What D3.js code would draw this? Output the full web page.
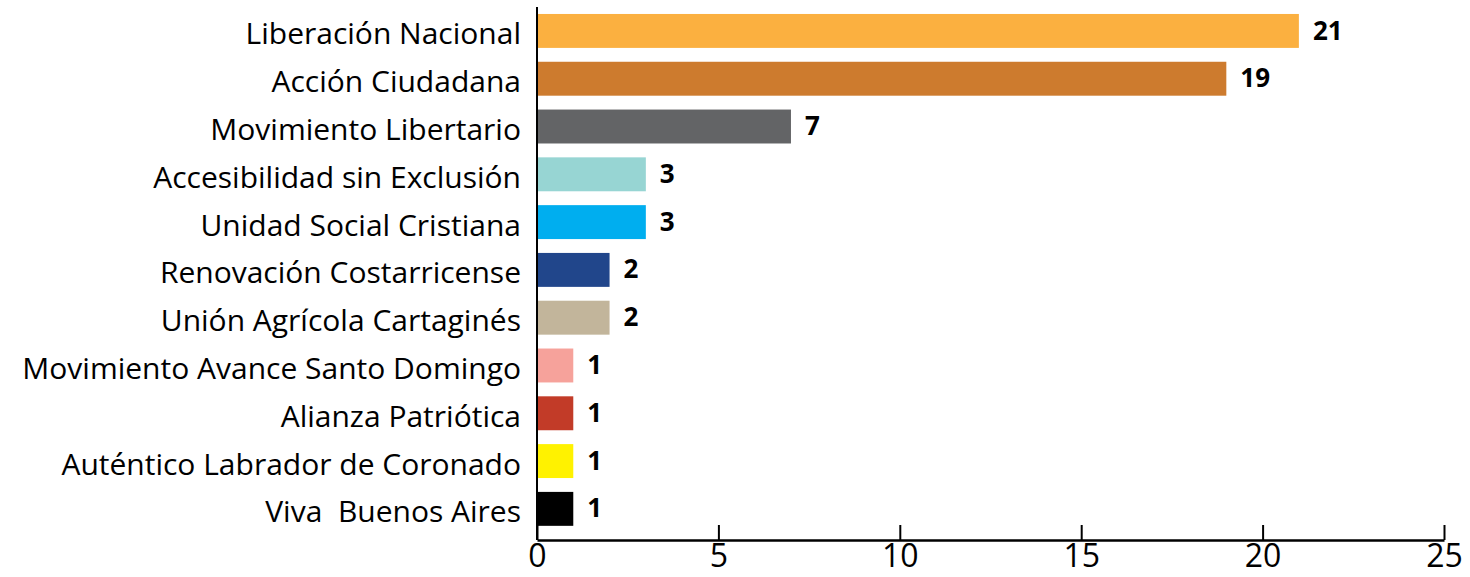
<!DOCTYPE html>
<html><head><meta charset="utf-8">
<script src="https://cdn.jsdelivr.net/npm/d3@7"></script>
<style>body{margin:0;background:#fff}svg{display:block}text{white-space:pre}</style>
</head><body><svg id="c" width="1470" height="577"></svg>
<script>
const categories = ["Liberación Nacional","Acción Ciudadana","Movimiento Libertario","Accesibilidad sin Exclusión","Unidad Social Cristiana","Renovación Costarricense","Unión Agrícola Cartaginés","Movimiento Avance Santo Domingo","Alianza Patriótica","Auténtico Labrador de Coronado","Viva  Buenos Aires"];
const values = [21,19,7,3,3,2,2,1,1,1,1];
const colors = ["#FBB040","#CD7B2E","#636466","#97D5D3","#00AEEF","#21468B","#C2B59B","#F6A29B","#C23B28","#FFF200","#000000"];
const xTicks = [0,5,10,15,20,25];

const svg = d3.select("#c");
const x0 = 537, x1 = 1444, axisY = 540;
const x = d3.scaleLinear().domain([0,25]).range([x0,x1]);
const y = d3.scaleBand().domain(categories).range([6.8,533]).paddingInner(0.29).paddingOuter(0.15);

svg.selectAll("rect.bar").data(categories).join("rect")
  .attr("x", x(0)).attr("y", d=>y(d))
  .attr("width", (d,i)=>x(values[i])-x(0)).attr("height", y.bandwidth())
  .attr("fill",(d,i)=>colors[i]);

svg.selectAll("text.val").data(categories).join("text")
  .attr("x",(d,i)=>x(values[i])+14).attr("y",d=>y(d)+y.bandwidth()/2)
  .attr("dy","0.33em").attr("font-family","Open Sans, sans-serif").attr("font-weight","bold")
  .attr("font-size",26).text((d,i)=>values[i]);

svg.selectAll("text.cat").data(categories).join("text")
  .attr("x",521).attr("y",d=>y(d)+y.bandwidth()/2).attr("dy","0.45em")
  .attr("text-anchor","end").attr("font-family","Open Sans, sans-serif").attr("font-size",30)
  .attr("fill","#000").text(d=>d);

svg.append("line").attr("x1",x0).attr("x2",x0).attr("y1",7).attr("y2",axisY).attr("stroke","#000").attr("stroke-width",2);

const ax = svg.append("g").attr("transform",`translate(0,${axisY})`)
  .call(d3.axisBottom(x).tickValues(xTicks).tickSizeInner(-15).tickSizeOuter(0).tickPadding(4));
ax.select(".domain").attr("stroke-width",2.5);
ax.selectAll(".tick line").attr("stroke-width",2);
ax.selectAll(".tick text").attr("font-family","Open Sans, sans-serif").attr("font-size",32).attr("fill","#000");
</script></body></html>
